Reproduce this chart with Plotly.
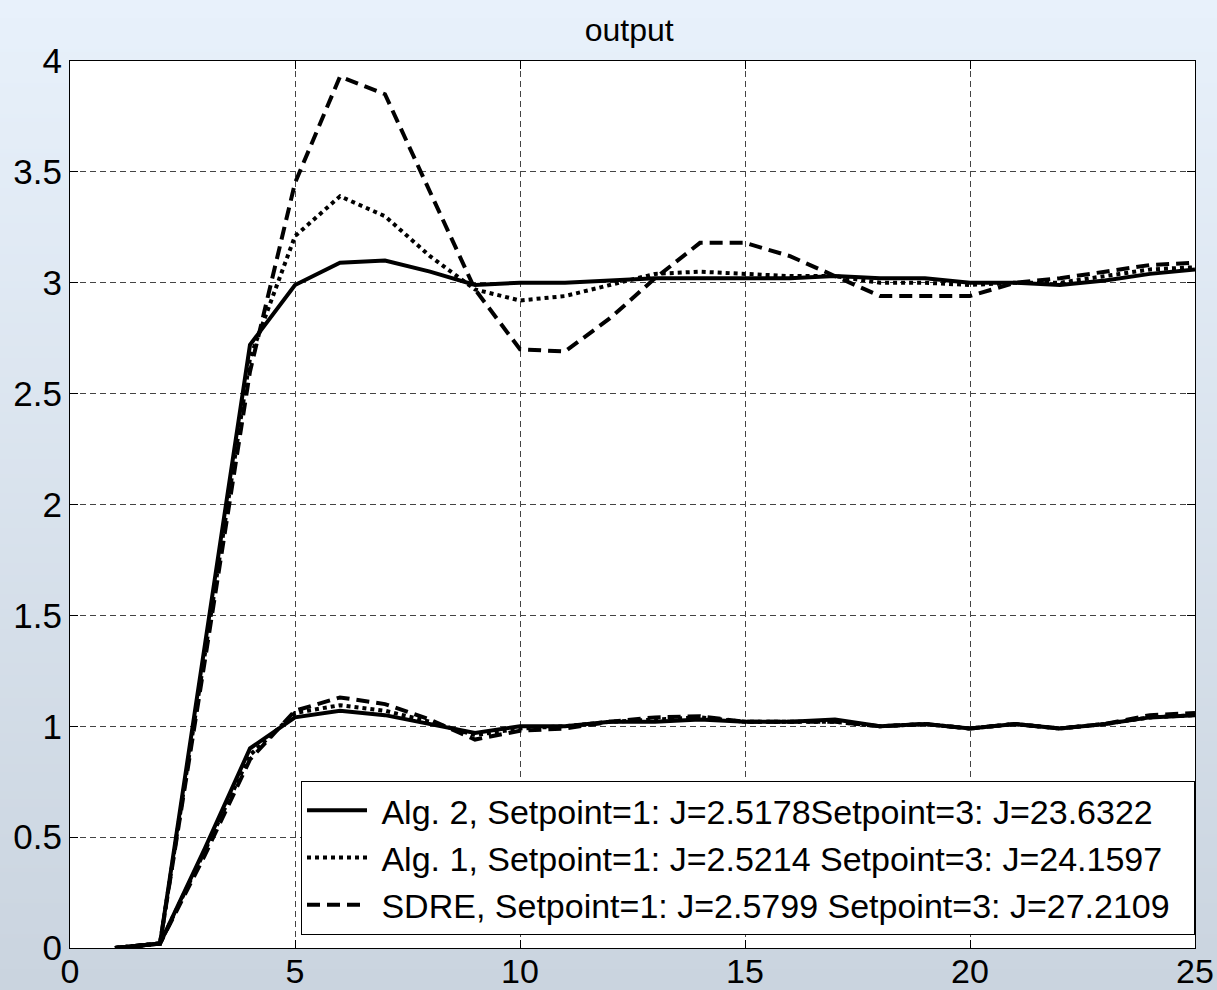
import zlib, struct, base64
import plotly.graph_objects as go

# ---- data ----
t = list(range(1, 26))

alg2_sp1 = [0, 0.02, 0.45, 0.90, 1.04, 1.07, 1.05, 1.01, 0.97, 1.00, 1.00, 1.02, 1.02, 1.03, 1.02, 1.02, 1.03, 1.00, 1.01, 0.99, 1.01, 0.99, 1.01, 1.04, 1.05]
alg1_sp1 = [0, 0.02, 0.44, 0.87, 1.06, 1.095, 1.07, 1.02, 0.96, 0.99, 1.00, 1.02, 1.03, 1.04, 1.02, 1.02, 1.02, 1.00, 1.01, 0.99, 1.01, 0.99, 1.01, 1.04, 1.05]
sdre_sp1 = [0, 0.02, 0.42, 0.85, 1.07, 1.13, 1.10, 1.03, 0.94, 0.98, 0.99, 1.02, 1.04, 1.045, 1.02, 1.02, 1.02, 1.00, 1.01, 0.99, 1.01, 0.99, 1.01, 1.05, 1.06]

alg2_sp3 = [0, 0.02, 1.37, 2.72, 2.99, 3.09, 3.10, 3.05, 2.99, 3.00, 3.00, 3.01, 3.02, 3.02, 3.02, 3.02, 3.03, 3.02, 3.02, 3.00, 3.00, 2.99, 3.01, 3.04, 3.06]
alg1_sp3 = [0, 0.02, 1.33, 2.66, 3.21, 3.39, 3.30, 3.12, 2.97, 2.92, 2.94, 2.99, 3.04, 3.05, 3.04, 3.03, 3.03, 3.00, 3.00, 2.99, 3.00, 3.00, 3.03, 3.06, 3.07]
sdre_sp3 = [0, 0.02, 1.30, 2.60, 3.45, 3.93, 3.85, 3.41, 2.97, 2.70, 2.69, 2.84, 3.02, 3.18, 3.18, 3.12, 3.03, 2.94, 2.94, 2.94, 3.00, 3.02, 3.05, 3.08, 3.09]

legend_names = [
    "Alg. 2, Setpoint=1: J=2.5178Setpoint=3: J=23.6322",
    "Alg. 1, Setpoint=1: J=2.5214 Setpoint=3: J=24.1597",
    "SDRE, Setpoint=1: J=2.5799 Setpoint=3: J=27.2109",
]
x_ticks = [0, 5, 10, 15, 20, 25]
y_ticks = [0, 0.5, 1, 1.5, 2, 2.5, 3, 3.5, 4]
y_tick_labels = ["0", "0.5", "1", "1.5", "2", "2.5", "3", "3.5", "4"]
title_text = "output"

# ---- background gradient image ----
def png_gradient(top, bottom, h=256):
    raw = b""
    for i in range(h):
        f = i / (h - 1)
        c = [round(top[k] + (bottom[k] - top[k]) * f) for k in range(3)]
        raw += b"\x00" + bytes(c)

    def chunk(tag, data):
        return struct.pack(">I", len(data)) + tag + data + struct.pack(">I", zlib.crc32(tag + data) & 0xFFFFFFFF)

    png = (b"\x89PNG\r\n\x1a\n"
           + chunk(b"IHDR", struct.pack(">IIBBBBB", 1, h, 8, 2, 0, 0, 0))
           + chunk(b"IDAT", zlib.compress(raw))
           + chunk(b"IEND", b""))
    return "data:image/png;base64," + base64.b64encode(png).decode()

W, H = 1217, 990
ml, mr, mt, mb = 70, 22, 61, 42
pw, ph = W - ml - mr, H - mt - mb

styles = [
    dict(color="black", width=4, dash="solid"),
    dict(color="black", width=4, dash="4px,4px"),
    dict(color="black", width=4, dash="13px,7px"),
]

fig = go.Figure()
series = [(alg2_sp1, alg2_sp3), (alg1_sp1, alg1_sp3), (sdre_sp1, sdre_sp3)]
pad = "\u00a0"
tail = "\u00a0\u00a0"
for (s1, s3), name, st in zip(series, legend_names, styles):
    fig.add_trace(go.Scatter(x=t, y=s1, mode="lines", name=pad + name + tail, line=st, legendgroup=name))
for (s1, s3), name, st in zip(series, legend_names, styles):
    fig.add_trace(go.Scatter(x=t, y=s3, mode="lines", name=pad + name + tail, line=st, legendgroup=name, showlegend=False))

font_family = "Liberation Sans, Arial, sans-serif"
axis_common = dict(
    showgrid=True, gridcolor="#444444", gridwidth=1, griddash="6px,4px",
    showline=True, linecolor="black", linewidth=1, mirror="ticks",
    ticks="inside", ticklen=8, tickcolor="black", zeroline=False, automargin=False,
)

fig.update_layout(
    width=W, height=H,
    margin=dict(l=ml, r=mr, t=mt, b=mb, pad=0, autoexpand=False),
    paper_bgcolor="#D8E2EC",
    plot_bgcolor="white",
    font=dict(family=font_family, color="black"),
    title=dict(text=title_text, x=0.517, xanchor="center", y=1 - 30 / H, yanchor="middle",
               yref="container", font=dict(size=32, color="black", family=font_family)),
    xaxis=dict(range=[0, 25], tickvals=x_ticks, ticklabelstandoff=-7,
               tickfont=dict(size=34, color="black", family=font_family), **axis_common),
    yaxis=dict(range=[0, 4], tickvals=y_ticks, ticktext=y_tick_labels,
               tickfont=dict(size=35, color="black", family=font_family), **axis_common),
    legend=dict(x=1, xanchor="right", y=0.015, yanchor="bottom",
                bgcolor="white", bordercolor="black", borderwidth=1,
                font=dict(size=34, color="black", family=font_family),
                itemwidth=60, tracegroupgap=0),
    showlegend=True,
    images=[dict(source=png_gradient((0xE8, 0xF1, 0xFB), (0xCA, 0xD4, 0xDF)),
                 xref="paper", yref="paper", x=-ml / pw, y=1 + mt / ph,
                 sizex=W / pw, sizey=H / ph, xanchor="left", yanchor="top",
                 sizing="stretch", layer="below")],
    shapes=[dict(type="rect", xref="paper", yref="paper", x0=0, x1=1, y0=0, y1=1,
                 fillcolor="white", line=dict(width=0), layer="below")],
)

fig.write_html("out.html")
